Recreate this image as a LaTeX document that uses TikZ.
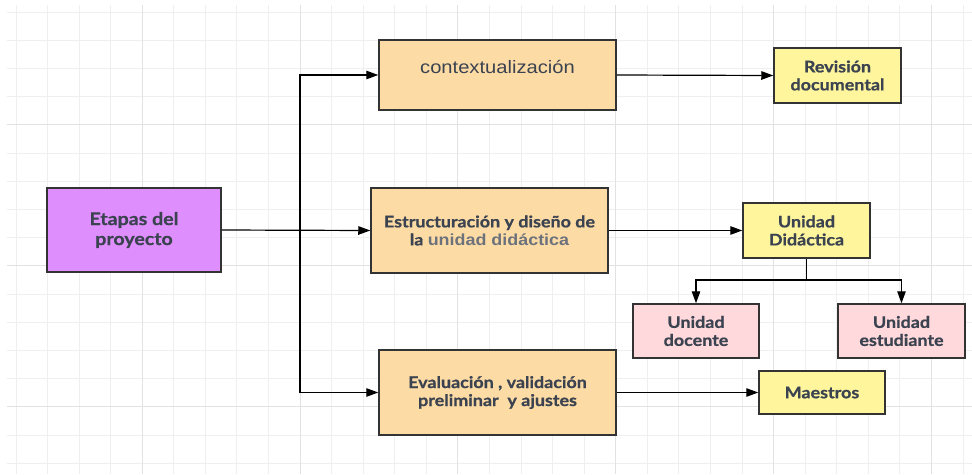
\documentclass[tikz,border=0pt]{standalone}
\usepackage{fontspec}
\setmainfont{Lato}[FakeStretch=1.12, BoldFeatures={FakeBold=0.8}]
\newfontfamily\arialfont{Liberation Sans}[FakeStretch=1.12]
\usetikzlibrary{arrows.meta}

\definecolor{txt}{HTML}{3B4350}
\definecolor{lila}{HTML}{DF8EFD}
\definecolor{naranja}{HTML}{FDDBA5}
\definecolor{amarillo}{HTML}{FFF59D}
\definecolor{rosa}{HTML}{FFD9DC}
\definecolor{borde}{HTML}{333333}
\definecolor{gmin}{HTML}{EFEFEF}
\definecolor{gmaj}{HTML}{E2E2E2}

\begin{document}
\begin{tikzpicture}[x=1pt, y=-1pt,
    caja/.style={rectangle, draw=borde, line width=1.5pt, text=txt, align=center,
        font=\bfseries\fontsize{16}{18}\selectfont, inner sep=0pt},
    flecha/.style={line width=1.2pt, -{Triangle[length=12pt, width=8.5pt]}}]
    \useasboundingbox (0,0) rectangle (972,474);
    \fill[white] (0,0) rectangle (972,474);

    % grid
    \foreach \i in {0,...,30} {
        \pgfmathsetmacro{\gx}{16+31.57*\i}
        \draw[gmin, line width=1pt] (\gx,5) -- (\gx,474);
    }
    \foreach \i in {0,...,16} {
        \pgfmathsetmacro{\gy}{12+28.2*\i}
        \draw[gmin, line width=1pt] (7,\gy) -- (972,\gy);
    }
    \foreach \i in {4,9,...,29} {
        \pgfmathsetmacro{\gx}{16+31.57*\i}
        \draw[gmaj, line width=1pt] (\gx,5) -- (\gx,474);
    }
    \foreach \i in {4,9,14} {
        \pgfmathsetmacro{\gy}{12+28.2*\i}
        \draw[gmaj, line width=1pt] (7,\gy) -- (972,\gy);
    }

    % boxes
    \node[caja, fill=lila, minimum width=174pt, minimum height=84pt,
        font=\bfseries\fontsize{17.5}{20}\selectfont] (etapas) at (134,230) {Etapas del\\proyecto};
    \node[caja, fill=naranja, minimum width=237pt, minimum height=70pt,
        font=\arialfont\fontsize{18}{21}\selectfont, text depth=17pt] (context) at (497.5,75) {contextualización};
    \node[caja, fill=amarillo, minimum width=127pt, minimum height=55pt] (revision) at (837.5,75.5) {Revisión\\documental};
    \node[caja, fill=naranja, minimum width=237pt, minimum height=85pt] (estruct) at (489.5,230.5)
        {Estructuración y diseño de\\la {\arialfont\bfseries\color{txt!75}unidad didáctica}};
    \node[caja, fill=amarillo, minimum width=127pt, minimum height=55pt] (unidad) at (806.5,230.5) {Unidad\\Didáctica};
    \node[caja, fill=rosa, minimum width=126pt, minimum height=54pt] (docente) at (696,331) {Unidad\\docente};
    \node[caja, fill=rosa, minimum width=127pt, minimum height=54pt] (estudiante) at (901.5,331) {Unidad\\estudiante};
    \node[caja, fill=naranja, minimum width=237pt, minimum height=85pt] (evalua) at (497.5,392.5)
        {Evaluación , validación\\preliminar\ \ y ajustes};
    \node[caja, fill=amarillo, minimum width=126pt, minimum height=43pt] (maestros) at (822,392.5) {Maestros};

    \coordinate (split) at (300,230);
    \coordinate (fork) at (806.5,280);

    % connectors
    \draw[flecha] (etapas.east) -- (estruct.west);
    \draw[flecha] (split) |- (context.west);
    \draw[flecha] (split) |- (evalua.west);
    \draw[flecha] (context.east) -- (revision.west);
    \draw[flecha] (estruct.east) -- (unidad.west);
    \draw[line width=1.2pt] (unidad.south) -- (fork);
    \draw[flecha] (fork) -| (docente.north);
    \draw[flecha] (fork) -| (estudiante.north);
    \draw[flecha] (evalua.east) -- (maestros.west);
\end{tikzpicture}
\end{document}
